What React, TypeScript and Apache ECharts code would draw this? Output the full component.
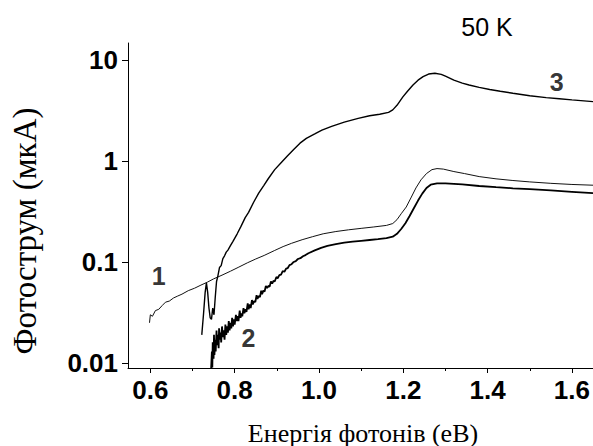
import React, { useEffect, useRef } from "react";
import * as echarts from "echarts";

// Curve 1 (thin line)
const energy1 = [0.598, 0.600, 0.605, 0.612, 0.620, 0.628, 0.636, 0.645, 0.655, 0.665, 0.675, 0.690, 0.705, 0.720, 0.735, 0.750, 0.770, 0.790, 0.810, 0.830, 0.850, 0.870, 0.895, 0.915, 0.935, 0.960, 0.985, 1.010, 1.040, 1.070, 1.100, 1.130, 1.160, 1.175, 1.185, 1.195, 1.207, 1.218, 1.230, 1.242, 1.255, 1.268, 1.280, 1.295, 1.320, 1.345, 1.380, 1.420, 1.460, 1.500, 1.550, 1.600, 1.650];
const current1 = [0.025, 0.030, 0.029, 0.033, 0.034, 0.037, 0.040, 0.041, 0.044, 0.046, 0.048, 0.052, 0.055, 0.059, 0.063, 0.068, 0.074, 0.081, 0.089, 0.098, 0.107, 0.116, 0.130, 0.142, 0.153, 0.166, 0.178, 0.190, 0.200, 0.208, 0.215, 0.222, 0.230, 0.240, 0.262, 0.300, 0.350, 0.430, 0.540, 0.650, 0.750, 0.820, 0.840, 0.830, 0.785, 0.750, 0.700, 0.665, 0.640, 0.620, 0.600, 0.585, 0.575];

// Curve 2 (thick, noisy)
const energy2 = [0.744, 0.746, 0.747, 0.748, 0.750, 0.751, 0.752, 0.754, 0.755, 0.757, 0.758, 0.760, 0.762, 0.763, 0.765, 0.767, 0.768, 0.770, 0.772, 0.774, 0.776, 0.778, 0.780, 0.782, 0.784, 0.786, 0.788, 0.790, 0.792, 0.794, 0.796, 0.798, 0.800, 0.803, 0.805, 0.807, 0.809, 0.812, 0.814, 0.816, 0.818, 0.821, 0.823, 0.826, 0.828, 0.831, 0.833, 0.836, 0.838, 0.841, 0.843, 0.846, 0.849, 0.852, 0.854, 0.857, 0.860, 0.863, 0.865, 0.868, 0.871, 0.874, 0.877, 0.880, 0.883, 0.886, 0.889, 0.892, 0.895, 0.899, 0.902, 0.906, 0.910, 0.914, 0.918, 0.922, 0.926, 0.930, 0.935, 0.940, 0.945, 0.950, 0.956, 0.962, 0.968, 0.975, 0.990, 1.005, 1.020, 1.040, 1.060, 1.080, 1.100, 1.120, 1.140, 1.160, 1.175, 1.185, 1.195, 1.205, 1.215, 1.225, 1.235, 1.245, 1.255, 1.265, 1.280, 1.300, 1.340, 1.380, 1.420, 1.460, 1.500, 1.550, 1.600, 1.650];
const current2 = [0.0085, 0.013, 0.009, 0.016, 0.011, 0.019, 0.012, 0.017, 0.013, 0.021, 0.015, 0.019, 0.014, 0.022, 0.017, 0.020, 0.016, 0.023, 0.018, 0.021, 0.017, 0.024, 0.019, 0.023, 0.020, 0.026, 0.021, 0.025, 0.022, 0.028, 0.023, 0.027, 0.024, 0.030, 0.026, 0.029, 0.026, 0.033, 0.028, 0.031, 0.029, 0.035, 0.031, 0.034, 0.032, 0.039, 0.034, 0.038, 0.035, 0.042, 0.038, 0.041, 0.040, 0.047, 0.043, 0.046, 0.045, 0.052, 0.048, 0.052, 0.051, 0.058, 0.055, 0.058, 0.057, 0.064, 0.061, 0.065, 0.064, 0.071, 0.069, 0.074, 0.075, 0.081, 0.080, 0.086, 0.087, 0.093, 0.095, 0.100, 0.102, 0.107, 0.109, 0.114, 0.117, 0.122, 0.130, 0.138, 0.144, 0.150, 0.155, 0.159, 0.162, 0.165, 0.168, 0.172, 0.178, 0.190, 0.212, 0.242, 0.285, 0.340, 0.405, 0.475, 0.540, 0.582, 0.600, 0.600, 0.585, 0.565, 0.550, 0.536, 0.525, 0.510, 0.495, 0.480];

// Curve 3 (upper line)
const energy3 = [0.722, 0.726, 0.730, 0.733, 0.736, 0.739, 0.742, 0.745, 0.748, 0.751, 0.754, 0.757, 0.760, 0.764, 0.768, 0.772, 0.776, 0.780, 0.784, 0.790, 0.796, 0.806, 0.815, 0.825, 0.833, 0.845, 0.857, 0.869, 0.880, 0.895, 0.909, 0.925, 0.940, 0.955, 0.970, 0.990, 1.007, 1.030, 1.060, 1.093, 1.120, 1.144, 1.165, 1.175, 1.185, 1.199, 1.210, 1.223, 1.235, 1.247, 1.260, 1.275, 1.290, 1.300, 1.320, 1.340, 1.356, 1.380, 1.405, 1.430, 1.460, 1.500, 1.539, 1.570, 1.600, 1.650];
const current3 = [0.019, 0.030, 0.050, 0.062, 0.050, 0.035, 0.028, 0.027, 0.035, 0.030, 0.045, 0.064, 0.072, 0.088, 0.092, 0.108, 0.115, 0.125, 0.131, 0.145, 0.160, 0.190, 0.225, 0.275, 0.310, 0.390, 0.480, 0.570, 0.670, 0.820, 0.950, 1.120, 1.300, 1.500, 1.670, 1.850, 2.020, 2.200, 2.420, 2.640, 2.800, 2.900, 3.020, 3.200, 3.550, 4.300, 4.900, 5.650, 6.300, 6.840, 7.250, 7.380, 7.200, 6.900, 6.300, 5.900, 5.650, 5.350, 5.100, 4.900, 4.680, 4.420, 4.230, 4.120, 4.020, 3.860];

// Curve number labels [energy, current, text]
const curveLabels: [number, number, string][] = [
  [0.62, 0.0723, "1"],
  [0.833, 0.0176, "2"],
  [1.564, 6.05, "3"],
];

const xMajorTicks = [0.6, 0.8, 1.0, 1.2, 1.4, 1.6];
const xMinorTicks = [0.7, 0.9, 1.1, 1.3, 1.5];
const yMajorTicks = [0.01, 0.1, 1, 10];
const yMinorTicks = [0.02, 0.03, 0.04, 0.05, 0.06, 0.07, 0.08, 0.09, 0.2, 0.3, 0.4, 0.5, 0.6, 0.7, 0.8, 0.9, 2, 3, 4, 5, 6, 7, 8, 9];

const X_MIN = 0.547;
const X_MAX = 1.65;
const Y_MIN = 0.00892;
const Y_MAX = 14.7;

const zip = (xs: number[], ys: number[]) => xs.map((x, i) => [x, ys[i]]);

export default function App() {
  const ref = useRef<HTMLDivElement>(null);
  useEffect(() => {
    if (!ref.current) return;
    const chart = echarts.init(ref.current, undefined, { renderer: "svg" });
    const sans = "'Liberation Sans', Arial, sans-serif";
    const serif = "'Liberation Serif', 'Times New Roman', serif";
    chart.setOption({
      animation: false,
      backgroundColor: "#ffffff",
      grid: { left: 128, top: 43, width: 465, height: 325, containLabel: false },
      xAxis: [
        {
          type: "value",
          min: X_MIN,
          max: X_MAX,
          position: "bottom",
          axisLine: { show: true, lineStyle: { color: "#000", width: 1 } },
          axisTick: { show: true, length: 5, customValues: xMajorTicks, lineStyle: { color: "#000" } },
          axisLabel: {
            show: true,
            customValues: xMajorTicks,
            margin: 9,
            fontSize: 26,
            fontWeight: "bold",
            fontFamily: sans,
            color: "#000",
            formatter: (v: number) => v.toFixed(1),
          },
          splitLine: { show: false },
        },
        {
          type: "value",
          min: X_MIN,
          max: X_MAX,
          position: "bottom",
          axisLine: { show: false },
          axisTick: { show: true, length: 3, customValues: xMinorTicks, lineStyle: { color: "#000" } },
          axisLabel: { show: false, customValues: xMinorTicks },
          splitLine: { show: false },
        },
      ],
      yAxis: [
        {
          type: "log",
          logBase: 10,
          min: Y_MIN,
          max: Y_MAX,
          axisLine: { show: true, lineStyle: { color: "#000", width: 1 } },
          axisTick: { show: true, length: 6, customValues: yMajorTicks, lineStyle: { color: "#000" } },
          axisLabel: {
            show: true,
            customValues: yMajorTicks,
            margin: 10,
            fontSize: 26,
            fontWeight: "bold",
            fontFamily: sans,
            color: "#000",
            formatter: (v: number) => String(v),
          },
          splitLine: { show: false },
        },
        {
          type: "log",
          logBase: 10,
          min: Y_MIN,
          max: Y_MAX,
          axisLine: { show: false },
          axisTick: { show: true, length: 3, customValues: yMinorTicks, lineStyle: { color: "#000" } },
          axisLabel: { show: false, customValues: yMinorTicks },
          splitLine: { show: false },
        },
      ],
      series: [
        {
          type: "line",
          data: zip(energy1, current1),
          showSymbol: false,
          symbol: "none",
          lineStyle: { color: "#111", width: 1 },
          clip: true,
        },
        {
          type: "line",
          data: zip(energy2, current2),
          showSymbol: false,
          symbol: "none",
          lineStyle: { color: "#000", width: 1.8 },
          clip: true,
        },
        {
          type: "line",
          data: zip(energy3, current3),
          showSymbol: false,
          symbol: "none",
          lineStyle: { color: "#000", width: 1.4 },
          clip: true,
        },
        {
          type: "scatter",
          symbolSize: 1,
          itemStyle: { color: "rgba(0,0,0,0)" },
          data: curveLabels.map((d) => ({ value: [d[0], d[1]], name: d[2] })),
          label: {
            show: true,
            position: "inside",
            formatter: (p: any) => p.name,
            fontSize: 25,
            fontWeight: "bold",
            fontFamily: sans,
            color: "#000",
          },
          silent: true,
        },
      ],
      graphic: [
        {
          type: "text",
          x: 487,
          y: 27,
          style: { text: "50 K", font: `25px ${sans}`, fill: "#000", align: "center", verticalAlign: "middle" },
        },
        {
          type: "text",
          x: 363,
          y: 433,
          style: { text: "Енергія фотонів (еВ)", font: `26px ${serif}`, fill: "#000", align: "center", verticalAlign: "middle" },
        },
        {
          type: "text",
          x: 25,
          y: 231,
          rotation: Math.PI / 2,
          style: { text: "Фотострум (мкА)", font: `33px ${serif}`, fill: "#000", align: "center", verticalAlign: "middle" },
        },
      ],
    });
    return () => chart.dispose();
  }, []);
  return <div ref={ref} style={{ position: "absolute", left: 0, top: 0, width: 593, height: 446 }} />;
}
